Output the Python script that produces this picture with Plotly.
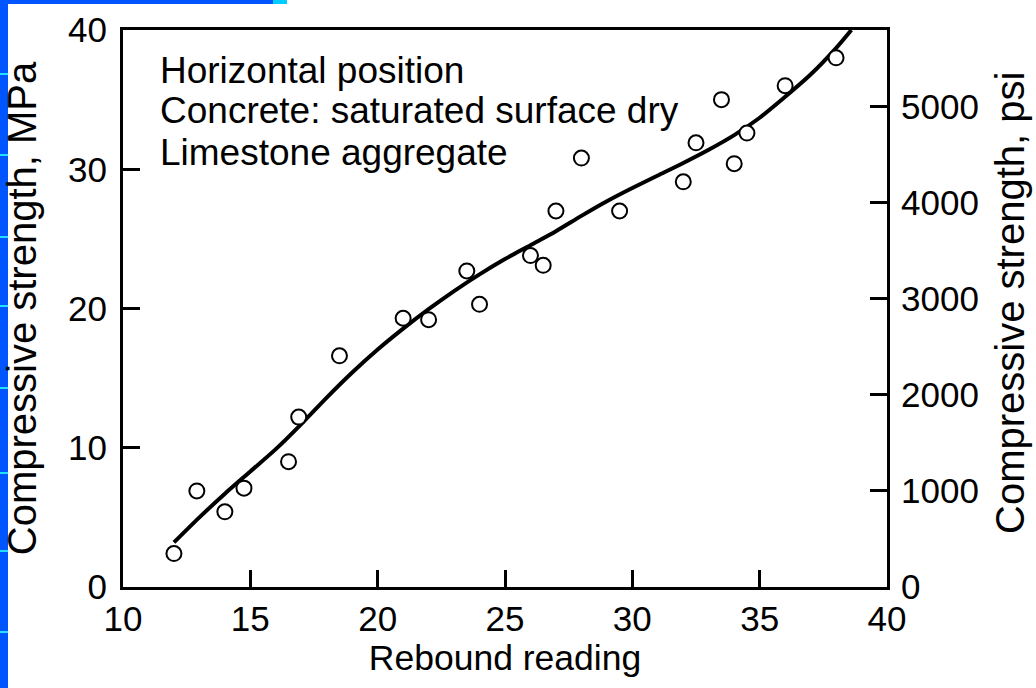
import plotly.graph_objects as go

# ---- data ----
rebound = [12, 12.9, 14, 14.75, 16.5, 16.9, 18.5, 21, 22, 23.5, 24, 26, 26.5,
           27, 28, 29.5, 32, 32.5, 33.5, 34, 34.5, 36, 38]
strength_mpa = [2.4, 6.9, 5.4, 7.1, 9.0, 12.2, 16.6, 19.3, 19.2, 22.7, 20.3, 23.8,
                23.1, 27.0, 30.8, 27.0, 29.1, 31.9, 35.0, 30.4, 32.6, 36.0, 38.0]

curve_x = [12, 13, 14, 15, 16, 17, 18, 19, 20, 21, 22, 23, 24, 25, 26, 27, 28,
           29, 30, 31, 32, 33, 34, 35, 36, 37, 38, 38.6]
curve_y = [3.2, 5.0, 6.7, 8.3, 9.9, 11.7, 13.6, 15.4, 17.05, 18.55, 19.95, 21.25,
           22.45, 23.55, 24.55, 25.55, 26.65, 27.7, 28.65, 29.55, 30.45, 31.4,
           32.45, 33.7, 35.2, 36.8, 38.7, 40.0]

x_ticks = [10, 15, 20, 25, 30, 35, 40]
mpa_ticks = [0, 10, 20, 30, 40]
psi_ticks = [0, 1000, 2000, 3000, 4000, 5000]
PSI_PER_MPA = 145.038

notes = ["Horizontal position",
         "Concrete: saturated surface dry",
         "Limestone aggregate"]
psi_title = "Compressive strength, psi"

FONT = "Liberation Sans, Arial, Helvetica, sans-serif"

# ---- figure geometry (px) ----
W, H = 1036, 688
L, R, T, B = 123, 1036 - 887, 30, 688 - 587
PW, PH = W - L - R, H - T - B


def px_x(p):
    return (p - L) / PW


def px_y(p):
    return (H - B - p) / PH


fig = go.Figure()

fig.add_trace(go.Scatter(
    x=curve_x, y=curve_y, mode="lines",
    line=dict(color="black", width=4, shape="spline", smoothing=0.8),
    hoverinfo="skip", showlegend=False, cliponaxis=True))

fig.add_trace(go.Scatter(
    x=rebound, y=strength_mpa, mode="markers",
    marker=dict(symbol="circle", size=15, color="white", line=dict(color="black", width=2)),
    showlegend=False))

# invisible trace to activate the psi axis
fig.add_trace(go.Scatter(
    x=rebound, y=[v * PSI_PER_MPA for v in strength_mpa], yaxis="y2", mode="markers",
    marker=dict(opacity=0), hoverinfo="skip", showlegend=False))

axis_common = dict(showgrid=False, zeroline=False, showline=True, linecolor="black",
                   linewidth=3, ticks="inside", ticklen=17, tickwidth=3, tickcolor="black",
                   tickfont=dict(family=FONT, size=35, color="black"))

fig.update_layout(
    width=W, height=H,
    margin=dict(l=L, r=R, t=T, b=B, autoexpand=False),
    paper_bgcolor="white", plot_bgcolor="white",
    font=dict(family=FONT, color="black"),
    xaxis=dict(range=[10, 40], tickvals=x_ticks, mirror=True, automargin=False,
               ticklabelstandoff=-1,
               title=dict(text="Rebound reading", font=dict(family=FONT, size=35.5), standoff=3),
               **axis_common),
    yaxis=dict(range=[0, 40], tickvals=mpa_ticks, automargin=False,
               ticklabelstandoff=6,
               title=dict(text="Compressive strength, MPa", font=dict(family=FONT, size=40), standoff=20),
               **axis_common),
    yaxis2=dict(range=[0, 40 * PSI_PER_MPA], tickvals=psi_ticks, overlaying="y", side="right",
                automargin=False, ticklabelstandoff=4,
                **axis_common),
)

# right-hand axis title
fig.add_annotation(text=psi_title, xref="paper", yref="paper", x=px_x(1010), y=px_y(303),
                   xanchor="center", yanchor="middle", textangle=-90, showarrow=False,
                   font=dict(family=FONT, size=40, color="black"))

# text block in the upper-left of the plot
for txt, cy in zip(notes, [70, 111, 152]):
    fig.add_annotation(text=txt, xref="paper", yref="paper", x=px_x(158), y=px_y(cy),
                       xanchor="left", yanchor="middle", showarrow=False,
                       font=dict(family=FONT, size=37, color="black"))

# slide decoration: blue strips on the left and top edges
shapes = [
    dict(type="rect", xref="paper", yref="paper", x0=px_x(0), x1=px_x(8), y0=px_y(H), y1=px_y(0),
         fillcolor="#0055FF", line=dict(width=0), layer="above"),
    dict(type="rect", xref="paper", yref="paper", x0=px_x(0), x1=px_x(273), y0=px_y(4), y1=px_y(0),
         fillcolor="#0055FF", line=dict(width=0), layer="above"),
    dict(type="rect", xref="paper", yref="paper", x0=px_x(273), x1=px_x(287), y0=px_y(4), y1=px_y(0),
         fillcolor="#00CCFF", line=dict(width=0), layer="above"),
]
for ty in [74, 155, 237, 306, 388, 473, 551, 632]:
    shapes.append(dict(type="rect", xref="paper", yref="paper", x0=px_x(0), x1=px_x(8),
                       y0=px_y(ty + 1), y1=px_y(ty - 1), fillcolor="#22E0FF",
                       line=dict(width=0), layer="above"))
fig.update_layout(shapes=shapes)

fig.write_html("out.html", config={"displayModeBar": False},
               post_script="document.body.style.margin='0px';")
